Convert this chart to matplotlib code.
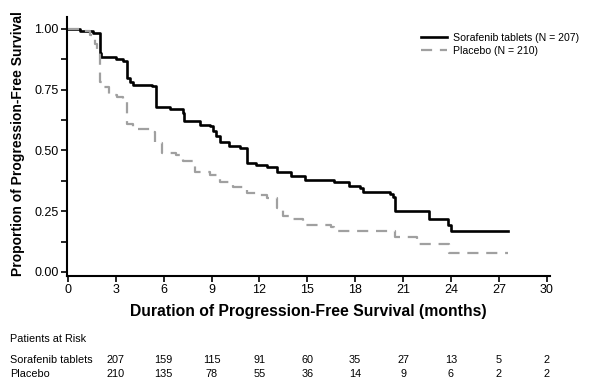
import numpy as np
import matplotlib.pyplot as plt
import matplotlib.transforms as mtransforms

plt.rcParams["font.family"] = ["Liberation Sans", "DejaVu Sans"]

# -----------------------------
# Kaplan-Meier steps
# -----------------------------
sor_time = [0, 0.75, 1.6, 2.0, 2.1, 3.0, 3.45, 3.7, 3.9, 4.1, 4.9, 5.3, 5.55, 6.4, 7.2,
            7.3, 8.3, 8.9, 9.1, 9.3, 9.5, 10.1, 10.8, 11.2, 11.8, 12.45, 13.1, 14.0,
            14.85, 16.7, 17.6, 18.3, 18.5, 20.2, 20.35, 20.5, 22.6, 23.8, 24.0, 27.6]
sor_surv = [1.0, 0.99, 0.985, 0.90, 0.885, 0.877, 0.87, 0.80, 0.78, 0.77, 0.77, 0.765,
            0.68, 0.67, 0.655, 0.62, 0.605, 0.60, 0.58, 0.56, 0.535, 0.52, 0.51, 0.45,
            0.44, 0.43, 0.41, 0.395, 0.38, 0.37, 0.355, 0.345, 0.33, 0.32, 0.31, 0.25,
            0.22, 0.195, 0.17, 0.17]

plc_time = [0, 0.75, 1.4, 1.7, 1.8, 2.0, 2.2, 2.6, 3.05, 3.45, 3.7, 4.1, 5.25, 5.45,
            5.9, 6.8, 7.2, 7.95, 8.9, 9.5, 10.35, 11.2, 12.0, 12.45, 13.1, 13.5, 13.9,
            14.7, 16.5, 16.7, 20.5, 21.85, 23.9, 27.6]
plc_surv = [1.0, 0.99, 0.975, 0.94, 0.90, 0.78, 0.76, 0.73, 0.72, 0.71, 0.61, 0.59,
            0.575, 0.53, 0.49, 0.48, 0.455, 0.41, 0.40, 0.37, 0.35, 0.325, 0.315, 0.305,
            0.265, 0.23, 0.22, 0.195, 0.185, 0.17, 0.145, 0.115, 0.08, 0.08]

# Patients at risk (columns sit under the ticks 3..30 in the original)
risk_cols = [3, 6, 9, 12, 15, 18, 21, 24, 27, 30]
sor_risk = [207, 159, 115, 91, 60, 35, 27, 13, 5, 2]
plc_risk = [210, 135, 78, 55, 36, 14, 9, 6, 2, 2]

x_ticks = list(range(0, 31, 3))
y_ticks = [0.00, 0.25, 0.50, 0.75, 1.00]


def main():
    fig = plt.figure(figsize=(5.92, 3.88), dpi=100)
    ax = fig.add_axes([0.113, 0.289, 0.816, 0.667])

    ax.step(sor_time, sor_surv, where="post", color="black", linewidth=1.9,
            label="Sorafenib tablets (N = 207)")
    ax.step(plc_time, plc_surv, where="post", color="#a0a0a0", linewidth=1.6,
            dashes=(5, 3.5), label="Placebo (N = 210)")

    ax.set_xlim(-0.06, 30.2)
    ax.set_ylim(-0.016, 1.049)

    ax.set_xticks(x_ticks)
    ax.set_yticks(y_ticks)
    ax.set_yticklabels([f"{v:.2f}" for v in y_ticks])
    ax.set_yticks(np.arange(0.125, 1.0, 0.25), minor=True)
    ax.tick_params(axis="both", which="both", direction="out", length=4, width=1.2,
                  labelsize=9, pad=2)

    for side in ["top", "right"]:
        ax.spines[side].set_visible(False)
    for side in ["left", "bottom"]:
        ax.spines[side].set_linewidth(1.5)

    ax.set_xlabel("Duration of Progression-Free Survival (months)", fontsize=11.3,
                  fontweight="bold")
    ax.xaxis.set_label_coords(0.5, -0.139)
    ax.xaxis.label.set_verticalalignment("center")
    ax.set_ylabel("Proportion of Progression-Free Survival", fontsize=10,
                  fontweight="bold")
    ax.yaxis.set_label_coords(-0.101, 0.51)
    ax.yaxis.label.set_verticalalignment("center")

    ax.legend(loc="upper left", bbox_to_anchor=(0.725, 0.955), frameon=False,
              fontsize=7.6, handlelength=2.4, handletextpad=0.6, labelspacing=0.25,
              borderaxespad=0)

    # Risk table
    trans = mtransforms.blended_transform_factory(ax.transData, fig.transFigure)
    fig.text(0.017, 0.126, "Patients at Risk", fontsize=7.8, va="center")
    fig.text(0.017, 0.072, "Sorafenib tablets", fontsize=7.8, va="center")
    fig.text(0.017, 0.036, "Placebo", fontsize=7.8, va="center")
    for c, s, p in zip(risk_cols, sor_risk, plc_risk):
        ax.text(c, 0.072, str(s), transform=trans, fontsize=7.8, ha="center",
                va="center", clip_on=False)
        ax.text(c, 0.036, str(p), transform=trans, fontsize=7.8, ha="center",
                va="center", clip_on=False)

    fig.savefig("out.png", dpi=100)
    plt.close(fig)


if __name__ == "__main__":
    main()
